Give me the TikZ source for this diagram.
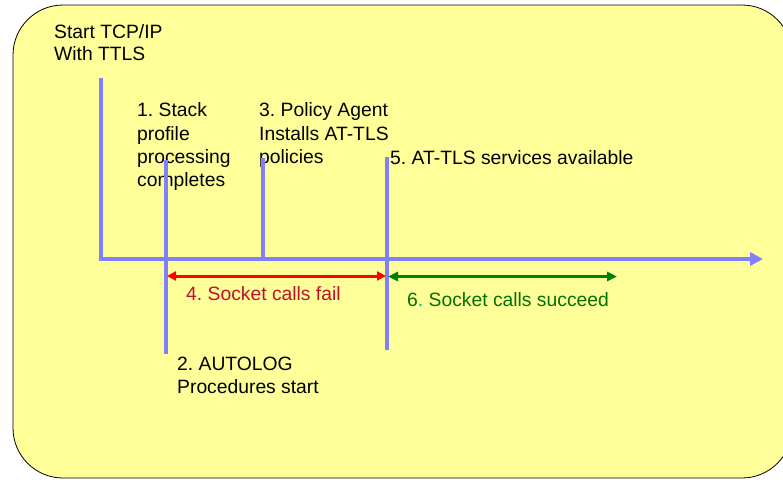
\documentclass[tikz,border=0pt]{standalone}
\usepackage{fontspec}
\setmainfont{Liberation Sans}
\usetikzlibrary{arrows.meta}
\frenchspacing
\definecolor{boxfill}{RGB}{255,255,153}
\definecolor{axisblue}{RGB}{128,128,255}
\definecolor{arrred}{RGB}{255,0,0}
\definecolor{txtred}{RGB}{192,16,48}
\definecolor{arrgreen}{RGB}{0,128,0}
\definecolor{txtgreen}{RGB}{0,112,0}
\definecolor{dotcyan}{RGB}{0,160,210}
\newcommand{\blk}[1]{\begin{tabular}[t]{@{}l@{}}#1\end{tabular}}
\begin{document}
\begin{tikzpicture}[x=1pt,y=-1pt,
  lbl/.style={anchor=base west, inner sep=0pt, font=\fontsize{19.3}{23.3}\selectfont\frenchspacing},
  tl/.style={draw=axisblue, line width=4pt},
  redarr/.style={draw=arrred, line width=3pt, {Triangle[length=9pt,width=9pt]}-{Triangle[length=9pt,width=9pt]}},
  greenarr/.style={draw=arrgreen, line width=3pt, {Triangle[length=10pt,width=9pt]}-{Triangle[length=10pt,width=9pt]}}]
\useasboundingbox (0,0) rectangle (783,479);
\draw[fill=boxfill, draw=black, line width=0.8pt, rounded corners=50pt] (13,5) rectangle (792,478);

% texts
\node[lbl, font=\fontsize{19.3}{22.4}\selectfont\frenchspacing] (start) at (54,38) {\blk{Start TCP/IP\\With TTLS}};
\node[lbl] (t1) at (137,116.7) {\blk{1. Stack\\profile\\processing\\completes}};
\node[lbl] (t3) at (259,116.7) {\blk{3. Policy Agent\\Installs AT-TLS\\policies}};
\node[lbl] (t5) at (390,164) {5. AT-TLS services available};
\node[lbl, text=txtred] (t4) at (186,300) {4. Socket calls fail};
\node[lbl, text=txtgreen] (t6) at (407,306.5) {6{\color{dotcyan}.} Socket calls succeed};
\node[lbl, font=\fontsize{19.3}{22.6}\selectfont\frenchspacing] (t2) at (177,370.7) {\blk{2. AUTOLOG\\Procedures start}};

% timeline coordinates
\coordinate (o) at (99,259);
\coordinate (axend) at (763,259);
\coordinate (s0t) at (101,78);   \coordinate (s0b) at (101,259);
\coordinate (s1t) at (166,160);  \coordinate (s1b) at (166,354);
\coordinate (s3t) at (263,158);  \coordinate (s3b) at (263,259);
\coordinate (s5t) at (387,157);  \coordinate (s5b) at (387,350);
\coordinate (r1) at (167,276);   \coordinate (r2) at (386,276);
\coordinate (g1) at (388,276.5); \coordinate (g2) at (617,276.5);

\draw[tl] (s0t) -- (s0b);
\draw[tl] (s1t) -- (s1b);
\draw[tl] (s3t) -- (s3b);
\draw[tl] (s5t) -- (s5b);
\draw[tl, -{Triangle[length=13pt,width=13pt]}] (o) -- (axend);

\draw[redarr] (r1) -- (r2);
\draw[greenarr] (g1) -- (g2);
\end{tikzpicture}
\end{document}
